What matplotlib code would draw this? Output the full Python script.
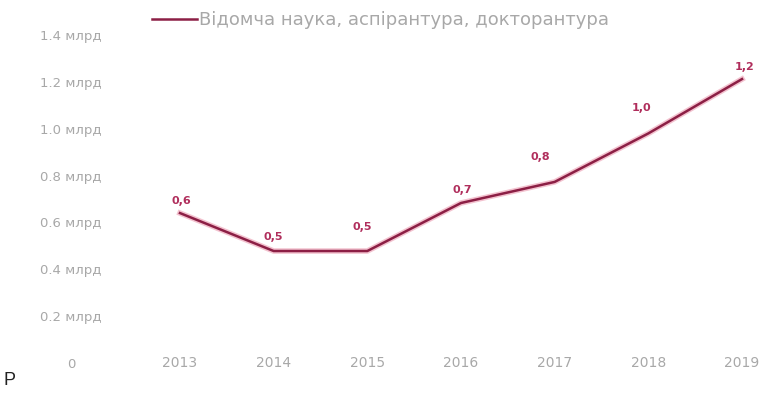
import numpy as np
import matplotlib
matplotlib.use("Agg")
import matplotlib.pyplot as plt

years = ["2013", "2014", "2015", "2016", "2017", "2018", "2019"]
funding = [0.64, 0.478, 0.478, 0.683, 0.773, 0.98, 1.212]   # млрд грн
series_name = "Відомча наука, аспірантура, докторантура"
yticks = [0, 0.2, 0.4, 0.6, 0.8, 1.0, 1.2, 1.4]
ytick_labels = ["0", "0.2 млрд", "0.4 млрд", "0.6 млрд", "0.8 млрд",
                "1.0 млрд", "1.2 млрд", "1.4 млрд"]

# offsets of the value labels from their points (pt)
label_offsets = [(1, 9), (0, 10), (-4, 17), (1, 9), (-10, 18), (-5, 18), (2, 9)]

line_col = "#8c1f45"
text_col = "#b02e5c"
grey = "#a8a8a8"

fig = plt.figure(figsize=(7.72, 3.95), dpi=100)
ax = fig.add_axes([0.1943, 0.081, 0.7966, 0.860])

x = np.arange(len(years))
ax.plot(x, funding, color="#f3c2cf", lw=4, solid_joinstyle="round", zorder=1)
ax.plot(x, funding, color=line_col, lw=1.8, solid_joinstyle="round", zorder=2,
        label=series_name)

for xi, v, off in zip(x, funding, label_offsets):
    ax.annotate(f"{v:.1f}".replace(".", ","), (xi, v), xytext=off,
                textcoords="offset points", ha="center", va="center",
                fontsize=8, fontweight="bold", color=text_col)

ax.set_xlim(-0.32, 6.245)
ax.set_ylim(0, 1.45)
ax.set_xticks(x)
ax.set_xticklabels(years)
ax.set_yticks(yticks)
ax.set_yticklabels(ytick_labels, ha="center")
ax.tick_params(axis="x", length=0, pad=-5, labelsize=10, labelcolor=grey)
ax.tick_params(axis="y", length=0, pad=57, labelsize=9.5, labelcolor=grey)
for s in ax.spines.values():
    s.set_visible(False)

leg = ax.legend(loc="upper left", bbox_to_anchor=(0.18, 1.003), bbox_transform=fig.transFigure,
                frameon=False, handlelength=2.5, handletextpad=0.1, fontsize=13,
                borderaxespad=0.3)
for t in leg.get_texts():
    t.set_color(grey)

fig.text(0.005, 0.025, "P", fontsize=13, family="Liberation Sans", color="#222222")

fig.savefig("out.png", dpi=100)
